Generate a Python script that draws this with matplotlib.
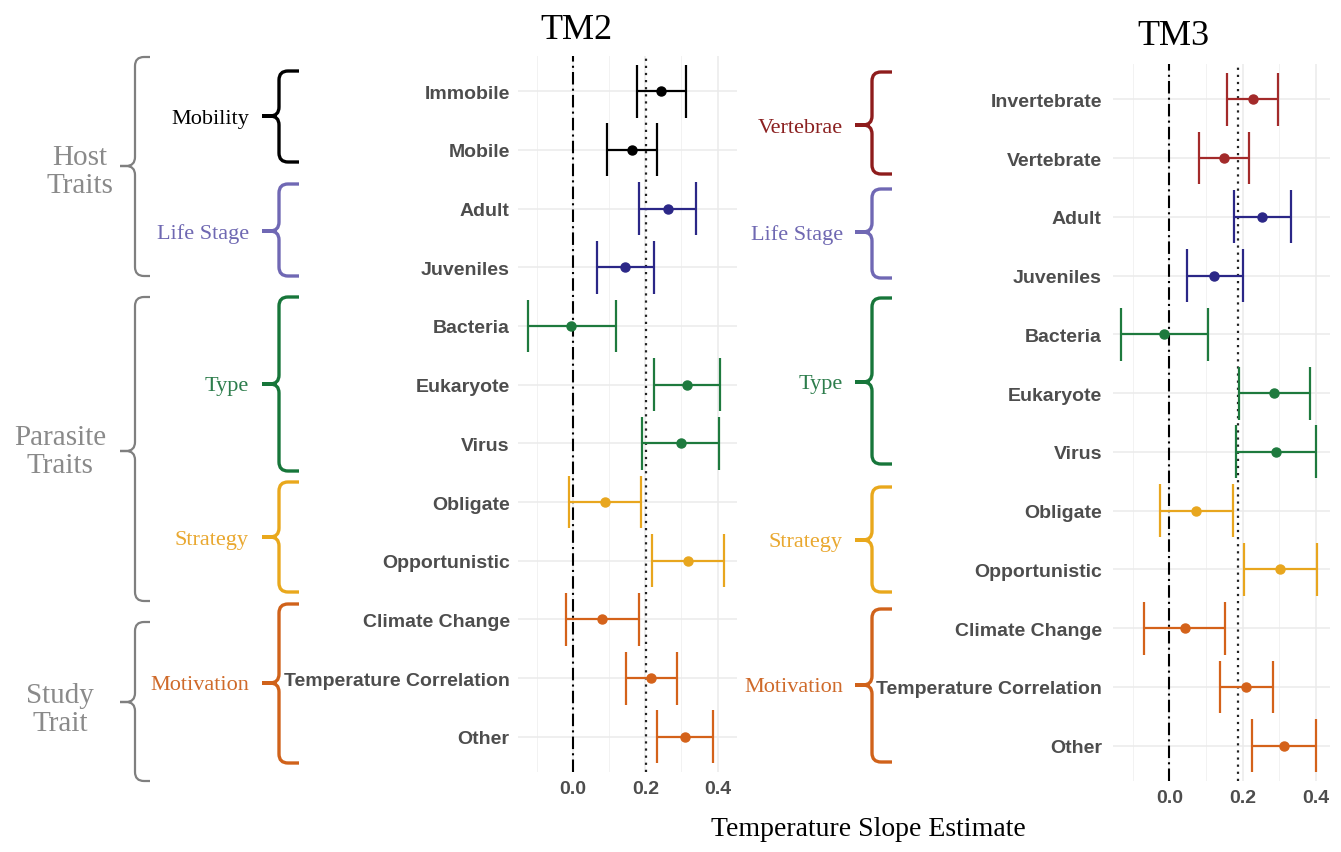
import matplotlib
matplotlib.use("Agg")
import matplotlib.pyplot as plt
from matplotlib.path import Path
from matplotlib.patches import PathPatch

SERIF = "Liberation Serif"
SANS = "Liberation Sans"

# --- model estimates, listed top to bottom -------------------------------
tm2_labels = ["Immobile", "Mobile", "Adult", "Juveniles", "Bacteria", "Eukaryote",
              "Virus", "Obligate", "Opportunistic", "Climate Change",
              "Temperature Correlation", "Other"]
tm2_groups = ["Mobility", "Mobility", "Life Stage", "Life Stage", "Type", "Type",
              "Type", "Strategy", "Strategy", "Motivation", "Motivation", "Motivation"]
tm2_est = [0.244, 0.163, 0.262, 0.144, -0.006, 0.315, 0.299, 0.088, 0.319, 0.081, 0.217, 0.310]
tm2_lo = [0.176, 0.094, 0.182, 0.066, -0.126, 0.223, 0.192, -0.013, 0.219, -0.019, 0.146, 0.231]
tm2_hi = [0.312, 0.231, 0.340, 0.224, 0.118, 0.407, 0.404, 0.187, 0.419, 0.183, 0.288, 0.388]
tm2_overall = 0.201

tm3_labels = ["Invertebrate", "Vertebrate", "Adult", "Juveniles", "Bacteria", "Eukaryote",
              "Virus", "Obligate", "Opportunistic", "Climate Change",
              "Temperature Correlation", "Other"]
tm3_groups = ["Vertebrae", "Vertebrae", "Life Stage", "Life Stage", "Type", "Type",
              "Type", "Strategy", "Strategy", "Motivation", "Motivation", "Motivation"]
tm3_est = [0.227, 0.149, 0.254, 0.122, -0.014, 0.286, 0.292, 0.074, 0.302, 0.043, 0.209, 0.313]
tm3_lo = [0.157, 0.081, 0.177, 0.047, -0.133, 0.189, 0.182, -0.025, 0.203, -0.068, 0.138, 0.225]
tm3_hi = [0.295, 0.218, 0.331, 0.200, 0.106, 0.383, 0.401, 0.173, 0.402, 0.153, 0.282, 0.401]
tm3_overall = 0.188

x_ticks = [0.0, 0.2, 0.4]
x_minor = [-0.1, 0.1, 0.3]

# --- colours per trait group --------------------------------------------
bar_col = {"Mobility": "#000000", "Life Stage": "#2B2787", "Type": "#1E7A3E",
           "Strategy": "#E8A61E", "Motivation": "#D4621A", "Vertebrae": "#A32A2A"}
brace_col = {"Mobility": "#000000", "Life Stage": "#7068B4", "Type": "#17763A",
             "Strategy": "#E9A81C", "Motivation": "#D0621A", "Vertebrae": "#8E1C1C"}
text_col = {"Mobility": "#000000", "Life Stage": "#6F68B2", "Type": "#2D7D4C",
            "Strategy": "#E9A830", "Motivation": "#CF6A2A", "Vertebrae": "#8B2020"}
GREY_BRACE = "#7F7F7F"
GREY_TEXT = "#8A8A8A"

W, H = 1341, 853
fig = plt.figure(figsize=(W / 100, H / 100), dpi=100)
fig.patch.set_facecolor("white")


def forest(rect, labels, groups, est, lo, hi, overall, xlim, pad):
    ax = fig.add_axes(rect)
    n = len(labels)
    ys = list(range(n))
    for x in x_ticks:
        ax.axvline(x, color="#EBEBEB", lw=1.1, zorder=0)
    for x in x_minor:
        ax.axvline(x, color="#F2F2F2", lw=0.7, zorder=0)
    for y in ys:
        ax.axhline(y, color="#EBEBEB", lw=1.1, zorder=0)
    ax.axvline(0, color="black", lw=1.5, ls=(0, (6, 2, 1, 2)), zorder=1)
    ax.axvline(overall, color="#222222", lw=1.6, ls=(0, (1, 2.2)), zorder=1)
    for y, g, e, l, h in zip(ys, groups, est, lo, hi):
        c = bar_col[g]
        ax.hlines(y, l, h, color=c, lw=1.6, zorder=2)
        ax.vlines([l, h], y - 0.45, y + 0.45, color=c, lw=1.6, zorder=2)
        ax.plot(e, y, "o", color=c, ms=6.5, zorder=3)
    ax.set_xlim(*xlim)
    ax.set_ylim(n - 0.4, -0.6)
    ax.set_yticks(ys)
    ax.set_yticklabels(labels, fontfamily=SANS, fontweight="bold",
                       fontsize=14, color="#4D4D4D")
    ax.set_xticks(x_ticks)
    ax.set_xticklabels([f"{t:.1f}" for t in x_ticks], fontfamily=SANS,
                       fontweight="bold", fontsize=14, color="#4D4D4D")
    ax.tick_params(length=0, axis="y", pad=pad)
    ax.tick_params(length=0, axis="x", pad=6)
    for s in ax.spines.values():
        s.set_visible(False)
    ax.set_facecolor("none")
    return ax


forest([518 / W, 1 - 773 / H, 219 / W, 716 / H], tm2_labels, tm2_groups,
       tm2_est, tm2_lo, tm2_hi, tm2_overall, (-0.153, 0.454), 6)
forest([1113 / W, 1 - 782 / H, 217 / W, 717 / H], tm3_labels, tm3_groups,
       tm3_est, tm3_lo, tm3_hi, tm3_overall, (-0.1535, 0.438), 8)

# overlay in pixel units for braces, titles and the shared x label
ov = fig.add_axes([0, 0, 1, 1], zorder=-1)
ov.set_xlim(0, W)
ov.set_ylim(H, 0)
ov.axis("off")


def brace(x, top, bottom, mid, hook, tip, color, lw):
    r = min(9, (bottom - top) / 8)
    verts = [(x + hook, top), (x + r, top), (x, top), (x, top + r),
             (x, mid - r), (x, mid), (x - r, mid), (x - tip, mid),
             (x - tip, mid), (x - r, mid), (x, mid), (x, mid + r),
             (x, bottom - r), (x, bottom), (x + r, bottom), (x + hook, bottom)]
    codes = [Path.MOVETO, Path.LINETO, Path.CURVE3, Path.CURVE3,
             Path.LINETO, Path.CURVE3, Path.CURVE3, Path.LINETO,
             Path.MOVETO, Path.LINETO, Path.CURVE3, Path.CURVE3,
             Path.LINETO, Path.CURVE3, Path.CURVE3, Path.LINETO]
    ov.add_patch(PathPatch(Path(verts, codes), fill=False, edgecolor=color,
                           lw=lw, capstyle="butt", joinstyle="round"))


# outer trait braces (left side only)
outer = [("Host\nTraits", 58, 277, 167, 80, 172),
         ("Parasite\nTraits", 298, 602, 452, 60, 452),
         ("Study\nTrait", 623, 782, 703, 60, 710)]
for txt, top, bot, mid, tx, ty in outer:
    brace(135, top, bot, mid, 15, 15, GREY_BRACE, 1.6)
    ov.text(tx, ty, txt, ha="center", va="center", fontfamily=SERIF,
            fontsize=21, color=GREY_TEXT, linespacing=1.1)

# inner group braces for each panel
tm2_braces = [("Mobility", 72, 163, 117), ("Life Stage", 185, 277, 232),
              ("Type", 298, 472, 385), ("Strategy", 483, 593, 538),
              ("Motivation", 605, 764, 684)]
tm3_braces = [("Vertebrae", 73, 175, 126), ("Life Stage", 190, 279, 233),
              ("Type", 299, 465, 383), ("Strategy", 488, 593, 541),
              ("Motivation", 610, 763, 686)]
for braces, bx, tx in [(tm2_braces, 279, 249), (tm3_braces, 872, 843)]:
    for g, top, bot, mid in braces:
        brace(bx, top, bot, mid, 20, 17, brace_col[g], 2.4)
        ov.text(tx, mid + 2, g, ha="right", va="center", fontfamily=SERIF,
                fontsize=16, color=text_col[g])

ov.text(576, 30, "TM2", ha="center", va="center", fontfamily=SERIF, fontsize=26)
ov.text(1173, 36, "TM3", ha="center", va="center", fontfamily=SERIF, fontsize=26)
ov.text(868, 830, "Temperature Slope Estimate", ha="center", va="center",
        fontfamily=SERIF, fontsize=20)

fig.savefig("out.png", dpi=100)
